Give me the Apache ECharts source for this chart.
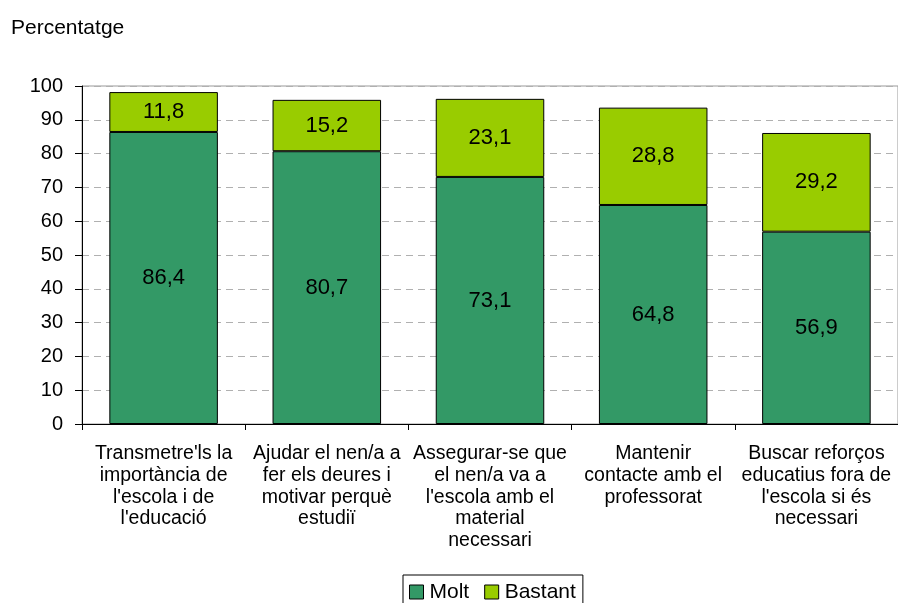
<!DOCTYPE html>
<html>
<head>
<meta charset="utf-8">
<script src="https://cdn.jsdelivr.net/npm/echarts@6/dist/echarts.min.js"></script>
<style>
html,body{margin:0;padding:0;background:#fff;}
#c{width:898px;height:603px;}
</style>
</head>
<body>
<div id="c"></div>
<script>
var categories = [
  "Transmetre'ls la\nimportància de\nl'escola i de\nl'educació",
  "Ajudar el nen/a a\nfer els deures i\nmotivar perquè\nestudiï",
  "Assegurar-se que\nel nen/a va a\nl'escola amb el\nmaterial\nnecessari",
  "Mantenir\ncontacte amb el\nprofessorat",
  "Buscar reforços\neducatius fora de\nl'escola si és\nnecessari"
];
var molt = [86.4, 80.7, 73.1, 64.8, 56.9];
var bastant = [11.8, 15.2, 23.1, 28.8, 29.2];
var seriesNames = ["Molt", "Bastant"];
var yTitle = "Percentatge";

var chart = echarts.init(document.getElementById('c'));
var font = "'Liberation Sans', Arial, sans-serif";
function fmt(p){ return String(p.value.toFixed(1)).replace('.', ','); }
chart.setOption({
  animation: false,
  textStyle: {fontFamily: font},
  title: {
    text: yTitle, left: 11, top: 18, padding: 0,
    textStyle: {fontFamily: font, fontSize: 21, fontWeight: 'normal', color: '#000'}
  },
  legend: {
    data: seriesNames,
    left: 403, top: 575,
    borderColor: '#000', borderWidth: 1,
    padding: [5, 7, 10, 6],
    itemWidth: 14, itemHeight: 14, itemGap: 15,
    icon: 'rect',
    itemStyle: {borderColor: '#000', borderWidth: 1},
    textStyle: {fontFamily: font, fontSize: 21, lineHeight: 24, color: '#000', padding: [0, 0, 0, 1]}
  },
  grid: {
    left: 82, top: 86, width: 820, height: 338,
    show: true, borderColor: '#999', borderWidth: 1,
    containLabel: false
  },
  xAxis: {
    type: 'category',
    data: categories,
    axisLine: {lineStyle: {color: '#000', width: 1}},
    axisTick: {show: true, length: 6, lineStyle: {color: '#000'}},
    axisLabel: {
      color: '#000', fontSize: 19.5, lineHeight: 21.7, margin: 19,
      interval: 0, fontFamily: font
    }
  },
  yAxis: {
    type: 'value', min: 0, max: 100, interval: 10,
    axisLine: {show: true, lineStyle: {color: '#000'}},
    axisTick: {show: true, length: 7, lineStyle: {color: '#000'}},
    axisLabel: {color: '#000', fontSize: 20, margin: 19, fontFamily: font},
    splitLine: {show: true, lineStyle: {color: '#b0b0b0', type: [7, 5], width: 1}}
  },
  series: [
    {
      name: seriesNames[0], type: 'bar', stack: 's', data: molt,
      barWidth: '66.5%',
      itemStyle: {color: '#339966', borderColor: '#000', borderWidth: 1},
      label: {show: true, position: 'inside', formatter: fmt, color: '#000', fontSize: 22, fontFamily: font}
    },
    {
      name: seriesNames[1], type: 'bar', stack: 's', data: bastant,
      barWidth: '66.5%',
      itemStyle: {color: '#99cc00', borderColor: '#000', borderWidth: 1},
      label: {show: true, position: 'inside', formatter: fmt, color: '#000', fontSize: 22, fontFamily: font}
    }
  ]
});
</script>
</body>
</html>
